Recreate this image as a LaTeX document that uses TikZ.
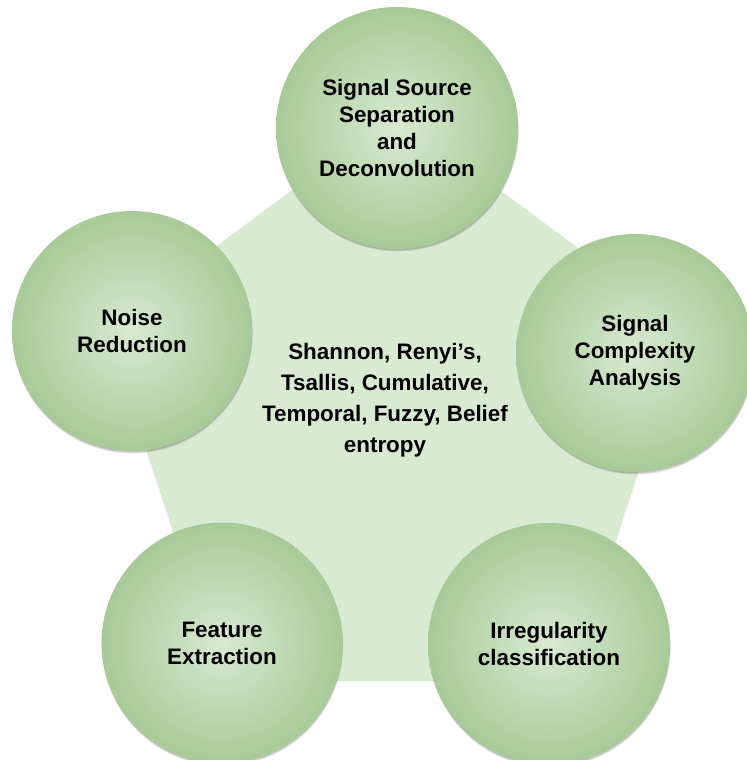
\documentclass[tikz,border=0pt]{standalone}
\usepackage{fontspec}
\setmainfont{Liberation Sans}
\usetikzlibrary{shadows}
\definecolor{penta}{HTML}{D9EAD3}
\definecolor{cin}{HTML}{D8EAD2}
\definecolor{cout}{HTML}{A8CA97}
\begin{document}
\begin{tikzpicture}[x=1bp,y=-1bp,
  bubble/.style={circle, minimum size=240bp, inner sep=0pt, shading=radial,
    inner color=cin, outer color=cout, align=center, text=black,
    font=\bfseries\fontsize{22.5}{27}\selectfont,
    drop shadow={shadow xshift=0.6bp, shadow yshift=-2.5bp, opacity=0.10, fill=black},
    drop shadow={shadow xshift=0.3bp, shadow yshift=-1.4bp, opacity=0.14, fill=black}},
  core/.style={align=center, text=black, font=\bfseries\fontsize{22.5}{31}\selectfont}]
\useasboundingbox (0,0) rectangle (747,760);
\clip (0,0) rectangle (747,760);
\coordinate (pt) at (396,113);
\coordinate (pr) at (686,328);
\coordinate (pbr) at (570,681);
\coordinate (pbl) at (222,681);
\coordinate (pl) at (106,328);
\fill[penta] (pt) -- (pr) -- (pbr) -- (pbl) -- (pl) -- cycle;
\node[bubble, minimum size=242bp] (top) at (397,128) {Signal Source\\Separation\\and\\Deconvolution};
\node[bubble, minimum size=238bp] (right) at (635,353) {Signal\\Complexity\\Analysis};
\node[bubble] (left) at (132,331) {Noise\\Reduction};
\node[bubble, minimum size=241bp] (bl) at (222,643) {Feature\\Extraction};
\node[bubble, minimum size=242bp] (br) at (549,644) {Irregularity\\classification};
\node[core] (center) at (385,400) {Shannon, Renyi’s,\\Tsallis, Cumulative,\\Temporal, Fuzzy, Belief\\entropy};
\end{tikzpicture}
\end{document}
